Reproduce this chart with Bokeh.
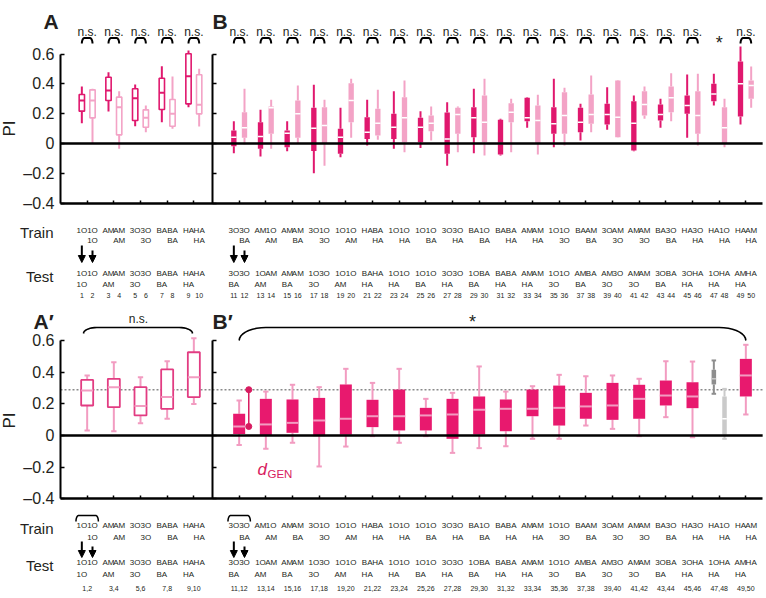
import numpy as np
from bokeh.plotting import figure
from bokeh.models import (Range1d, LinearAxis, FixedTicker, Arrow, NormalHead, ColumnDataSource,
                          CDSView, IndexFilter)
from bokeh.core.properties import value
from bokeh.embed import file_html
from bokeh.resources import INLINE

# ===================== DATA =====================
# Panels A (boxes 1-10) and B (boxes 11-50): PI per experiment
top_lo = [0.136, 0.000, 0.215, -0.036, 0.116, 0.076, 0.143, 0.099, 0.244, 0.114,
          -0.065, -0.007, -0.087, -0.036, -0.052, 0.002, -0.200, -0.150, -0.092, 0.038,
          -0.013, 0.025, -0.036, -0.058, -0.031, 0.020, -0.150, -0.058, -0.065, -0.080,
          -0.080, -0.058, 0.105, -0.074, -0.025, -0.013, 0.020, 0.076, 0.092, 0.040,
          -0.052, 0.166, 0.105, 0.150, 0.038, -0.013, 0.255, -0.025, 0.128, 0.240]
top_q1 = [0.217, 0.172, 0.289, 0.058, 0.154, 0.109, 0.228, 0.116, 0.266, 0.199,
          -0.018, 0.038, -0.036, 0.065, -0.025, 0.038, -0.050, -0.002, -0.069, 0.143,
          0.031, 0.054, 0.031, 0.009, 0.009, 0.083, -0.069, 0.065, 0.042, 0.009,
          -0.074, 0.143, 0.150, -0.002, 0.065, 0.065, 0.076, 0.132, 0.128, 0.042,
          -0.047, 0.188, 0.154, 0.210, 0.199, 0.065, 0.284, -0.002, 0.181, 0.300]
top_med = [0.289, 0.289, 0.356, 0.244, 0.304, 0.172, 0.340, 0.199, 0.452, 0.260,
           0.042, 0.105, 0.047, 0.240, 0.069, 0.199, 0.103, 0.121, 0.042, 0.289,
           0.076, 0.136, 0.109, 0.172, 0.109, 0.136, 0.031, 0.195, 0.172, 0.143,
           0.000, 0.210, 0.172, 0.154, 0.132, 0.188, 0.143, 0.195, 0.195, 0.177,
           0.136, 0.262, 0.195, 0.307, 0.255, 0.188, 0.333, 0.105, 0.401, 0.389]
top_q3 = [0.329, 0.360, 0.445, 0.311, 0.367, 0.226, 0.438, 0.295, 0.602, 0.461,
          0.087, 0.210, 0.143, 0.248, 0.087, 0.289, 0.240, 0.244, 0.099, 0.405,
          0.177, 0.233, 0.199, 0.311, 0.172, 0.188, 0.208, 0.240, 0.244, 0.322,
          0.159, 0.270, 0.307, 0.255, 0.244, 0.344, 0.240, 0.329, 0.266, 0.423,
          0.284, 0.351, 0.262, 0.383, 0.322, 0.351, 0.401, 0.244, 0.550, 0.423]
top_hi = [0.383, 0.367, 0.479, 0.351, 0.396, 0.255, 0.519, 0.450, 0.624, 0.501,
          0.150, 0.367, 0.226, 0.293, 0.150, 0.389, 0.394, 0.293, 0.240, 0.434,
          0.293, 0.360, 0.351, 0.423, 0.217, 0.248, 0.277, 0.248, 0.367, 0.434,
          0.166, 0.300, 0.311, 0.327, 0.434, 0.374, 0.266, 0.456, 0.378, 0.427,
          0.322, 0.383, 0.300, 0.472, 0.463, 0.468, 0.468, 0.300, 0.651, 0.517]
top_sig = ["n.s."] * 23 + ["*", "n.s."]

# Odor labels per pair: train = (box a line1, box b line1, box b line2)
train_pairs = [("1O", "1O", "1O"), ("AM", "AM", "AM"), ("3O", "3O", "3O"), ("BA", "BA", "BA"), ("HA", "HA", "HA"),
               ("3O", "3O", "BA"), ("AM", "1O", "AM"), ("AM", "AM", "BA"), ("3O", "1O", "3O"), ("1O", "1O", "AM"),
               ("HA", "BA", "HA"), ("1O", "1O", "HA"), ("1O", "1O", "BA"), ("3O", "3O", "HA"), ("BA", "1O", "BA"),
               ("BA", "BA", "HA"), ("AM", "AM", "HA"), ("1O", "1O", "3O"), ("BA", "AM", "BA"), ("3O", "AM", "3O"),
               ("AM", "AM", "3O"), ("BA", "3O", "BA"), ("HA", "3O", "HA"), ("HA", "1O", "HA"), ("HA", "AM", "HA")]
# test = (box a line1, box a line2, box b line1)
test_pairs = [("1O", "1O", "1O"), ("AM", "AM", "AM"), ("3O", "3O", "3O"), ("BA", "BA", "BA"), ("HA", "HA", "HA"),
              ("3O", "BA", "3O"), ("1O", "AM", "AM"), ("AM", "BA", "AM"), ("1O", "3O", "3O"), ("1O", "AM", "1O"),
              ("BA", "HA", "HA"), ("1O", "HA", "1O"), ("1O", "BA", "1O"), ("3O", "HA", "3O"), ("1O", "BA", "BA"),
              ("BA", "HA", "BA"), ("AM", "HA", "AM"), ("1O", "3O", "1O"), ("AM", "BA", "BA"), ("AM", "3O", "3O"),
              ("AM", "3O", "AM"), ("3O", "BA", "BA"), ("3O", "HA", "HA"), ("1O", "HA", "HA"), ("AM", "HA", "HA")]

# Panels A' and B': pooled pairs (A' 1-5, B' pairs 1-18 and 20)
bot_lo = [0.032, 0.027, 0.078, 0.106, 0.200,
          -0.060, -0.084, -0.046, -0.196, -0.070, -0.004, -0.046, -0.004, -0.110, -0.080,
          -0.068, -0.021, -0.021, 0.063, 0.042, -0.004, 0.116, -0.011, 0.133]
bot_q1 = [0.190, 0.179, 0.127, 0.169, 0.243,
          0.010, 0.000, 0.017, -0.004, 0.005, 0.053, 0.032, 0.032, -0.021, 0.006,
          0.027, 0.122, 0.063, 0.106, 0.099, 0.106, 0.190, 0.173, 0.247]
bot_med = [0.285, 0.306, 0.186, 0.243, 0.369,
           0.057, 0.070, 0.080, 0.095, 0.106, 0.122, 0.122, 0.127, 0.133, 0.163,
           0.169, 0.169, 0.175, 0.184, 0.190, 0.232, 0.253, 0.247, 0.380]
bot_q3 = [0.352, 0.359, 0.306, 0.418, 0.527,
          0.137, 0.232, 0.228, 0.238, 0.323, 0.226, 0.291, 0.175, 0.232, 0.247,
          0.228, 0.291, 0.316, 0.270, 0.333, 0.321, 0.348, 0.337, 0.485]
bot_hi = [0.380, 0.464, 0.369, 0.470, 0.616,
          0.222, 0.278, 0.321, 0.306, 0.422, 0.333, 0.422, 0.232, 0.270, 0.437,
          0.278, 0.312, 0.384, 0.375, 0.380, 0.359, 0.470, 0.468, 0.574]
# B' pair 47/48 (shown separately in grey)
gray_lo = [0.264, -0.021]
gray_q1 = [0.323, 0.006]
gray_med = [0.359, 0.106]
gray_q3 = [0.416, 0.247]
gray_hi = [0.475, 0.295]
ref_pi = 0.29          # dashed reference level
bot_sig_A = "n.s."
bot_sig_B = "*"

y_ticks = [-0.4, -0.2, 0, 0.2, 0.4, 0.6]
y_tick_labels = ["\u20130.4", "\u20130.2", "0", "0.2", "0.4", "0.6"]

# ===================== LAYOUT =====================
TEXT = "#231F20"
DARK = "#E0186E"
LIGHT = "#F3A3C6"
BDARK = "#E8196E"
BLIGHT = "#F29CC1"
OUTL = "#E23C82"
FONT = "Liberation Sans"

W, H = 766, 598
B_START = 5.7
X_END = 26.33
pair_c = np.concatenate([np.arange(1, 6), B_START + np.arange(1, 21)]).astype(float)
box_x = np.repeat(pair_c, 2) + np.tile([-0.2, 0.2], 25)


def ty(ry):  # page row -> top panel units
    return (143 - ry) / 149


def by(ry):  # page row -> bottom panel units
    return (435 - ry) / 158


def ux(rx):
    return (rx - 60) / 26.667


p = figure(width=W, height=H, x_range=Range1d(ux(0), ux(W)), y_range=Range1d(ty(H), ty(0)),
           output_backend="svg", toolbar_location=None, tools="", x_axis_location=None,
           y_axis_location=None, min_border=0, outline_line_color=None)
p.extra_y_ranges = {"bot": Range1d(by(H), by(0))}
p.grid.visible = False

T = "default"
B = "bot"


def txt(xs, ys, texts, size, rng, align="center", baseline="middle", color=TEXT, style="normal", angle=0.0):
    src = ColumnDataSource(dict(x=list(xs), y=list(ys), t=list(texts)))
    p.text("x", "y", text="t", source=src, y_range_name=rng, text_font=value(FONT),
           text_font_size=f"{size}px", text_align=align, text_baseline=baseline,
           text_color=color, text_font_style=style, angle=angle)


def axes(rng, yf, pi_row):
    for loc, lab in [(0.0, True), (B_START, False)]:
        ax = LinearAxis(y_range_name=rng, fixed_location=loc, bounds=(-0.4, 0.6),
                        ticker=FixedTicker(ticks=y_ticks),
                        major_label_overrides=dict(zip(y_ticks, y_tick_labels)),
                        major_tick_in=4, major_tick_out=0, minor_tick_line_color=None,
                        axis_line_width=2, major_tick_line_width=1.5,
                        major_label_standoff=6, major_label_text_font=FONT,
                        major_label_text_font_size="16px", major_label_text_color=TEXT if lab else None)
        p.add_layout(ax, "left")
    xa = LinearAxis(y_range_name=rng, fixed_location=-0.4, bounds=(0, X_END),
                    ticker=FixedTicker(ticks=list(pair_c)), major_tick_in=3, major_tick_out=0,
                    minor_tick_line_color=None, axis_line_width=2.5, major_tick_line_width=1.5,
                    major_label_text_color=None)
    p.add_layout(xa, "below")
    txt([ux(9)], [yf(pi_row)], ["PI"], 17, rng, angle=np.pi / 2)


def bracket(x0, x1, y_end, y_top, rx, n=10):
    t = np.linspace(0, np.pi / 2, n)
    h = y_top - y_end
    xs = list(x0 + rx - rx * np.cos(t)) + list(x1 - rx + rx * np.cos(t[::-1]))
    ys = list(y_end + h * np.sin(t)) + list(y_end + h * np.sin(t[::-1]))
    return xs, ys


# ---------------- top panels A / B ----------------
n = len(top_med)
is_a = np.arange(n) % 2 == 0
cols = [DARK if a else LIGHT for a in is_a]
tsrc = ColumnDataSource(dict(x=box_x, lo=top_lo, q1=top_q1, med=top_med, q3=top_q3, hi=top_hi,
                             c=cols, x0=box_x - 0.1, x1=box_x + 0.1))
vA = CDSView(filter=IndexFilter(list(range(10))))
vB = CDSView(filter=IndexFilter(list(range(10, 50))))
p.segment("x", "q3", "x", "hi", source=tsrc, line_color="c", line_width=2)
p.segment("x", "lo", "x", "q1", source=tsrc, line_color="c", line_width=2)
p.vbar(x="x", width=0.2, bottom="q1", top="q3", source=tsrc, view=vA, fill_color="white",
       line_color="c", line_width=1.6)
p.segment("x0", "med", "x1", "med", source=tsrc, view=vA, line_color="c", line_width=2)
p.vbar(x="x", width=0.2, bottom="q1", top="q3", source=tsrc, view=vB, fill_color="c", line_color=None)
p.segment("x0", "med", "x1", "med", source=tsrc, view=vB, line_color="white", line_width=1.5)
p.line([0, X_END], [0, 0], line_color="black", line_width=2.6)
axes(T, ty, 128)

# significance marks
bxs, bys = [], []
for c, s in zip(pair_c, top_sig):
    if s == "n.s.":
        xs, ys = bracket(c - 0.2, c + 0.2, ty(43), ty(37.5), 0.1)
        bxs.append(xs)
        bys.append(ys)
p.multi_line(bxs, bys, line_color="black", line_width=2)
ns_x = [c for c, s in zip(pair_c, top_sig) if s == "n.s."]
txt(ns_x, [ty(31)] * len(ns_x), ["n.s."] * len(ns_x), 12, T)
st_x = [c for c, s in zip(pair_c, top_sig) if s == "*"]
txt(st_x, [ty(42)] * len(st_x), ["*"] * len(st_x), 18, T)
txt([ux(43), ux(212)], [ty(21)] * 2, ["A", "B"], 21, T, align="left", style="bold")

# ---------------- bottom panels A' / B' ----------------
bot_idx = [i for i in range(25) if i != 23]
bx = pair_c[bot_idx]
bcols = [OUTL] * 5 + [BDARK] * 19
bsrc = ColumnDataSource(dict(x=bx, lo=bot_lo, q1=bot_q1, med=bot_med, q3=bot_q3, hi=bot_hi,
                             c=bcols, x0=bx - 0.225, x1=bx + 0.225, c0=bx - 0.1, c1=bx + 0.1))
vA2 = CDSView(filter=IndexFilter(list(range(5))))
vB2 = CDSView(filter=IndexFilter(list(range(5, 24))))
p.line([0, X_END], [ref_pi, ref_pi], y_range_name=B, line_color="#8A8A8A", line_width=1.4,
       line_dash="2 2")
for y0, y1 in [("q3", "hi"), ("lo", "q1")]:
    p.segment("x", y0, "x", y1, source=bsrc, y_range_name=B, line_color=BLIGHT, line_width=2)
for yc in ["lo", "hi"]:
    p.segment("c0", yc, "c1", yc, source=bsrc, y_range_name=B, line_color=BLIGHT, line_width=2)
p.vbar(x="x", width=0.45, bottom="q1", top="q3", source=bsrc, view=vA2, y_range_name=B,
       fill_color="white", line_color="c", line_width=1.8)
p.vbar(x="x", width=0.45, bottom="q1", top="q3", source=bsrc, view=vB2, y_range_name=B,
       fill_color="c", line_color=None)
p.segment("x0", "med", "x1", "med", source=bsrc, y_range_name=B, line_color=BLIGHT, line_width=2)

# grey pair 47/48
gx = pair_c[23] + np.array([-0.2, 0.2])
gsrc = ColumnDataSource(dict(x=gx, lo=gray_lo, q1=gray_q1, med=gray_med, q3=gray_q3, hi=gray_hi,
                             c=["#8E8E8E", "#CACACA"], m=["#C8C8C8", "white"],
                             x0=gx - 0.085, x1=gx + 0.085))
for y0, y1 in [("q3", "hi"), ("lo", "q1")]:
    p.segment("x", y0, "x", y1, source=gsrc, y_range_name=B, line_color="c", line_width=2)
for yc in ["lo", "hi"]:
    p.segment("x0", yc, "x1", yc, source=gsrc, y_range_name=B, line_color="c", line_width=2)
p.vbar(x="x", width=0.17, bottom="q1", top="q3", source=gsrc, y_range_name=B, fill_color="c",
       line_color=None)
p.segment("x0", "med", "x1", "med", source=gsrc, y_range_name=B, line_color="m", line_width=1.5)

# d_GEN: distance of B' pair 1 median to reference level
dx = pair_c[5] + 0.36
p.segment([dx], [bot_med[5]], [dx], [ref_pi], y_range_name=B, line_color="#D81B60", line_width=1.5)
p.scatter([dx, dx], [bot_med[5], ref_pi], y_range_name=B, size=6, color="#D81B60")
txt([ux(257)], [by(469)], ["d"], 17, B, align="left", color="#D81B60", style="italic")
txt([ux(267)], [by(473)], ["GEN"], 11.5, B, align="left", color="#D81B60")

p.line([0, X_END], [0, 0], y_range_name=B, line_color="black", line_width=2.6)
axes(B, by, 420)

xs, ys = bracket(ux(83), ux(192), by(333), by(327), 0.5)
xs2, ys2 = bracket(pair_c[5], pair_c[24], by(340), by(327), 1.0)
p.multi_line([xs, xs2], [ys, ys2], y_range_name=B, line_color="black", line_width=1.6)
txt([ux(138)], [by(318)], [bot_sig_A], 12, B)
txt([ux(472)], [by(321)], [bot_sig_B], 18, B)
txt([ux(33), ux(212)], [by(321)] * 2, ["A\u2032", "B\u2032"], 21, B, align="left", style="bold")

# ---------------- Train / Test label rows ----------------
tr_a1 = [t[0] for t in train_pairs]
tr_b1 = [t[1] for t in train_pairs]
tr_b2 = [t[2] for t in train_pairs]
te_a1 = [t[0] for t in test_pairs]
te_a2 = [t[1] for t in test_pairs]
te_b1 = [t[2] for t in test_pairs]
xa = box_x[0::2]
xb = box_x[1::2]

for rng, yf, rows in [(T, ty, (230, 240, 273, 284, 295, 245, 250, 262)),
                      (B, by, (525, 537, 562, 574, 588, 541, 546, 557))]:
    r_tr1, r_tr2, r_te1, r_te2, r_num, r_aa, r_ab, r_ae = rows
    txt(list(xa) + list(xb), [yf(r_tr1)] * 50, tr_a1 + tr_b1, 8, rng)
    txt(xb, [yf(r_tr2)] * 25, tr_b2, 8, rng)
    txt(list(xa) + list(xb), [yf(r_te1)] * 50, te_a1 + te_b1, 8, rng)
    txt(xa, [yf(r_te2)] * 25, te_a2, 8, rng)
    txt([ux(53)] * 2, [yf((r_tr1 + r_tr2) / 2 - 3), yf((r_te1 + r_te2) / 2 - 3)], ["Train", "Test"],
        15, rng, align="right")
    for xi, ys_ in [(box_x[0], r_aa), (box_x[1], r_ab), (box_x[10], r_aa), (box_x[11], r_ab)]:
        p.add_layout(Arrow(end=NormalHead(size=7, fill_color="black", line_color="black", line_width=1),
                           x_start=xi, y_start=yf(ys_), x_end=xi, y_end=yf(r_ae),
                           line_width=2, line_color="black", y_range_name=rng))

txt(box_x, [ty(295)] * 50, [str(i) for i in range(1, 51)], 7, T)
txt(pair_c, [by(588)] * 25, [f"{2 * i + 1},{2 * i + 2}" for i in range(25)], 7, B)
tb = [bracket(c - 0.42, c + 0.42, by(521), by(515), 0.1) for c in (pair_c[0], pair_c[5])]
p.multi_line([b[0] for b in tb], [b[1] for b in tb], y_range_name=B, line_color="black", line_width=1.5)

open("out.html", "w").write(file_html(p, INLINE))
